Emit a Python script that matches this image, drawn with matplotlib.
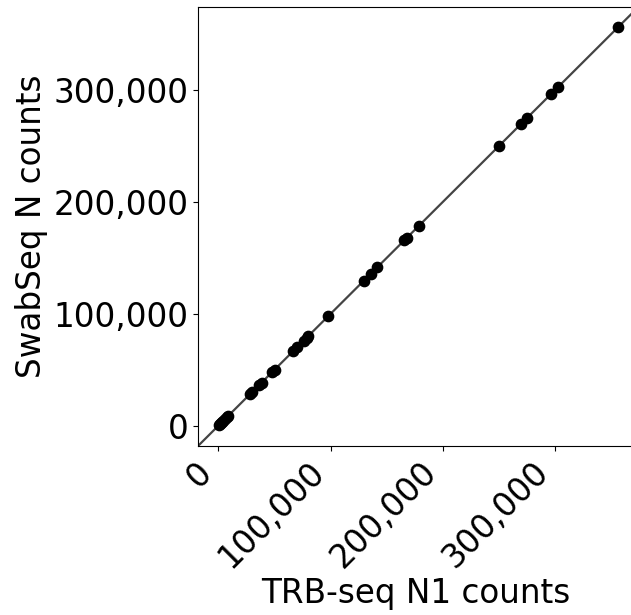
import matplotlib
matplotlib.use('Agg')
import matplotlib.pyplot as plt
from matplotlib.ticker import FuncFormatter

# N1 counts per sample, TRB-seq vs SwabSeq
trb_counts = [500, 1500, 2500, 3500, 4500, 6000, 7500, 9000,
              28000, 30000, 36500, 38500, 48000, 50000,
              66500, 70000, 76000, 78500, 80000, 97800,
              129500, 135500, 141500, 165500, 168000, 178500,
              250000, 269000, 275000, 296000, 302500, 356000]
swab_counts = [500, 1500, 2500, 3500, 4500, 6000, 7500, 9000,
               28000, 30000, 36500, 38500, 48000, 50000,
               66500, 70000, 76000, 78500, 80000, 97800,
               129500, 135500, 141500, 165500, 168000, 178500,
               250000, 269000, 275000, 296000, 302500, 356000]
ticks = [0, 100000, 200000, 300000]
xlim = (-18000, 369500)
ylim = (-18000, 374000)

fig = plt.figure(figsize=(6.31, 6.15), dpi=100)
ax = fig.add_axes([0.314, 0.275, 0.69, 0.714])

ax.plot([xlim[0], ylim[1]], [xlim[0], ylim[1]], color='#444444', lw=1.6, zorder=1)
ax.scatter(trb_counts, swab_counts, s=55, color='black', zorder=2)

ax.set_xlim(*xlim)
ax.set_ylim(*ylim)
ax.set_xticks(ticks)
ax.set_yticks(ticks)
fmt = FuncFormatter(lambda v, p: '{:,.0f}'.format(v))
ax.xaxis.set_major_formatter(fmt)
ax.yaxis.set_major_formatter(fmt)
ax.tick_params(labelsize=23.5)
plt.setp(ax.get_xticklabels(), rotation=45, ha='right')
ax.set_xlabel('TRB-seq N1 counts', fontsize=23.5, labelpad=2)
ax.set_ylabel('SwabSeq N counts', fontsize=23.5)
ax.spines['right'].set_visible(False)

fig.savefig('out.png', dpi=100)
